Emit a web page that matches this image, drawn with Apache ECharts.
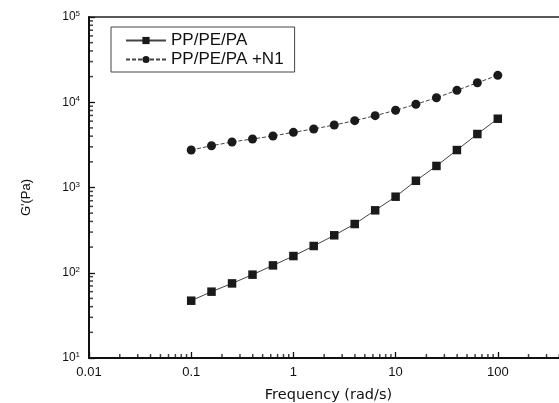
<!DOCTYPE html>
<html>
<head>
<meta charset="utf-8">
<script src="https://cdn.jsdelivr.net/npm/echarts@6/dist/echarts.min.js"></script>
<style>
  html, body { margin: 0; padding: 0; background: #fff; }
  #chart { width: 559px; height: 403px; }
</style>
</head>
<body>
<div id="chart"></div>
<script>
// Angular frequency sweep (rad/s)
const frequency = [0.1, 0.158, 0.251, 0.398, 0.631, 1, 1.58, 2.51, 3.98, 6.31, 10, 15.8, 25.1, 39.8, 63.1, 100];
// Storage modulus G' (Pa)
const gBlend = [47, 60, 75, 95, 122, 157, 206, 275, 373, 540, 780, 1200, 1790, 2750, 4240, 6410];
const gBlendN1 = [2750, 3090, 3420, 3710, 4020, 4440, 4860, 5410, 6080, 6960, 8050, 9460, 11300, 13800, 16950, 20700];
const seriesNames = ['PP/PE/PA', 'PP/PE/PA +N1'];

// Axis ranges and minor tick multipliers within each decade
const X_MIN = 0.01, X_MAX = 1000;
const Y_MIN = 10, Y_MAX = 100000;
const minorSteps = [2, 3, 4, 5, 6, 7, 8, 9];
const xDecades = [0.01, 0.1, 1, 10, 100];
const yDecades = [10, 100, 1000, 10000];

const xMinorTicks = [];
xDecades.forEach(d => minorSteps.forEach(k => xMinorTicks.push([+(k * d).toPrecision(3), Y_MIN])));
const yMinorTicks = [];
yDecades.forEach(d => minorSteps.forEach(k => yMinorTicks.push([X_MIN, k * d])));

const INK = '#111';
const FONT = 'Liberation Sans, Arial, sans-serif';
const MINOR_LEN = 4;

const chart = echarts.init(document.getElementById('chart'), null, { renderer: 'canvas' });

chart.setOption({
  backgroundColor: '#fff',
  animation: false,
  grid: {
    left: 89, top: 17, right: -41, bottom: 45,
    outerBoundsMode: 'none', containLabel: false,
    show: true, borderColor: '#222', borderWidth: 1.5, backgroundColor: 'transparent'
  },
  legend: {
    data: seriesNames,
    orient: 'vertical',
    left: 111, top: 27,
    padding: [5, 11, 4, 14],
    itemGap: 2,
    itemWidth: 40, itemHeight: 9,
    borderColor: '#444', borderWidth: 1,
    textStyle: { fontFamily: FONT, fontSize: 17, color: INK }
  },
  xAxis: {
    type: 'log', logBase: 10, min: X_MIN, max: X_MAX,
    name: 'Frequency (rad/s)',
    nameLocation: 'middle', nameGap: 30,
    nameTextStyle: { fontFamily: 'DejaVu Sans, sans-serif', fontSize: 14.5, color: INK, padding: [0, 32, 0, 0] },
    axisLine: { lineStyle: { color: INK, width: 2 } },
    axisTick: { inside: true, length: 6, lineStyle: { color: INK, width: 1.3 } },
    axisLabel: {
      margin: 8, color: INK, fontFamily: FONT, fontSize: 13,
      formatter: v => String(+(+v).toPrecision(3))
    },
    splitLine: { show: false }
  },
  yAxis: {
    type: 'log', logBase: 10, min: Y_MIN, max: Y_MAX,
    name: "G'(Pa)",
    nameLocation: 'middle', nameGap: 56,
    nameTextStyle: { fontFamily: FONT, fontSize: 13, color: INK, padding: [0, 20, 0, 0] },
    axisLine: { lineStyle: { color: INK, width: 2 } },
    axisTick: { inside: true, length: 6, lineStyle: { color: INK, width: 1.3 } },
    axisLabel: {
      margin: 9, color: INK,
      formatter: v => '{b|10}{s|' + Math.round(Math.log10(v)) + '}',
      rich: {
        b: { fontFamily: FONT, fontSize: 12, color: INK, lineHeight: 14 },
        s: { fontFamily: FONT, fontSize: 8, color: INK, verticalAlign: 'top', lineHeight: 9 }
      }
    },
    splitLine: { show: false }
  },
  series: [
    {
      name: seriesNames[0], type: 'line',
      data: frequency.map((f, i) => [f, gBlend[i]]),
      symbol: 'rect', symbolSize: 8.5,
      itemStyle: { color: '#1a1a1a' },
      lineStyle: { color: '#444', width: 1 }
    },
    {
      name: seriesNames[1], type: 'line',
      data: frequency.map((f, i) => [f, gBlendN1[i]]),
      symbol: 'circle', symbolSize: 9,
      itemStyle: { color: '#1a1a1a' },
      lineStyle: { color: '#444', width: 1, type: [4, 2] }
    },
    // minor ticks along the frequency axis
    {
      type: 'scatter', silent: true, clip: false, z: 5,
      data: xMinorTicks,
      symbol: 'rect', symbolSize: [1.5, MINOR_LEN], symbolOffset: [0, -MINOR_LEN / 2],
      itemStyle: { color: INK }
    },
    // minor ticks along the modulus axis
    {
      type: 'scatter', silent: true, clip: false, z: 5,
      data: yMinorTicks,
      symbol: 'rect', symbolSize: [MINOR_LEN, 1.5], symbolOffset: [MINOR_LEN / 2, 0],
      itemStyle: { color: INK }
    }
  ]
});
</script>
</body>
</html>
